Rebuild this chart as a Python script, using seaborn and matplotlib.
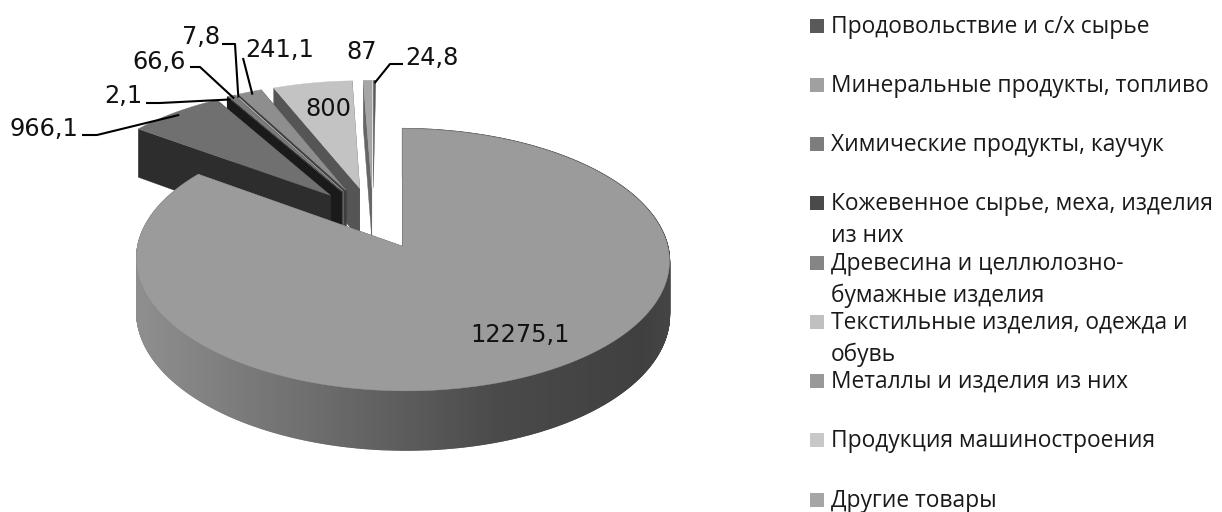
import numpy as np
import seaborn as sns
import matplotlib
matplotlib.use("Agg")
import matplotlib.pyplot as plt
from matplotlib.patches import Polygon, Rectangle

categories = ["Продовольствие и с/х сырье", "Минеральные продукты, топливо",
              "Химические продукты, каучук", "Кожевенное сырье, меха, изделия\nиз них",
              "Древесина и целлюлозно-\nбумажные изделия", "Текстильные изделия, одежда и\nобувь",
              "Металлы и изделия из них", "Продукция машиностроения", "Другие товары"]
values = [24.8, 12275.1, 966.1, 2.1, 66.6, 7.8, 241.1, 800, 87]
value_labels = ["24,8", "12275,1", "966,1", "2,1", "66,6", "7,8", "241,1", "800", "87"]

top_colors = ["#5a5a5a", "#9b9b9b", "#707070", "#3a3a3a", "#7a7a7a", "#b5b5b5", "#8e8e8e", "#c3c3c3", "#a6a6a6"]
wall_colors = ["#444444", "#404040", "#2d2d2d", "#1a1a1a", "#3c3c3c", "#777777", "#3f3f3f", "#555555", "#666666"]
legend_colors = ["#595959", "#a0a0a0", "#7d7d7d", "#4a4a4a", "#858585", "#c0c0c0", "#999999", "#c8c8c8", "#a6a6a6"]

sns.set_theme(style="white")
plt.rcParams["font.family"] = ["Open Sans", "DejaVu Sans"]

fig, ax = plt.subplots(figsize=(12.22, 5.12), dpi=100)
ax.set_position([0, 0, 1, 1])
ax.set_xlim(0, 1222)
ax.set_ylim(512, 0)
ax.axis("off")

CX, CY, RX, RY, K, DEPTH, EXPL = 373, 218, 259, 124, 0.10, 52, 0.25


def project(u, v, z=0.0):
    w = 1 + K * v
    return CX + RX * u / w, CY - RY * v / w + DEPTH * z / w


total = sum(values)
spans = 360 * np.array(values) / total
starts = np.concatenate([[0], np.cumsum(spans)[:-1]])


def slice_uv(i, ang, radius=1.0):
    mid = np.radians(starts[i] + spans[i] / 2)
    a = np.radians(ang)
    return EXPL * np.sin(mid) + radius * np.sin(a), EXPL * np.cos(mid) + radius * np.cos(a)


def rim_gray(x):
    return np.interp(x, [135, 300, 500, 640, 671], [0.56, 0.44, 0.29, 0.25, 0.27])


def draw_slice(i, z):
    a0, a1 = starts[i], starts[i] + spans[i]
    angs = np.linspace(a0, a1, max(3, int(spans[i] * 4)))
    apex = slice_uv(i, 0, 0)
    uv = [slice_uv(i, a) for a in angs]
    if i != 0:  # the food sliver shows no visible side wall
        for edge in (uv[0], uv[-1]):
            col = wall_colors[i]
            ax.add_patch(Polygon([project(*apex), project(*edge), project(*edge, 1), project(*apex, 1)],
                                 closed=True, fc=col, ec=col, lw=0.3, zorder=z))
    if i == 1:  # only the big slice turns its rim towards the viewer
        for p, q in zip(uv[:-1], uv[1:]):
            g = float(rim_gray(project(*p)[0]))
            col = (g, g, g)
            ax.add_patch(Polygon([project(*p), project(*q), project(*q, 1), project(*p, 1)],
                                 closed=True, fc=col, ec=col, lw=1.0, zorder=z))
    ax.add_patch(Polygon([project(*apex)] + [project(*p) for p in uv], closed=True,
                         fc=top_colors[i], ec=top_colors[i], lw=0.3, zorder=z + 0.5))


# painter's order, back to front
for z, i in enumerate([0, 8, 7, 6, 5, 4, 3, 2, 1]):
    draw_slice(i, z + 1)

# data labels
label_pos = {0: (432, 57), 1: (520, 334), 2: (44, 128), 3: (123, 95), 4: (159, 61),
             5: (201, 36), 6: (280, 49), 7: (328, 108), 8: (362, 51)}
label_fs = 17.3
for i, (x, y) in label_pos.items():
    ax.text(x, y + 1, value_labels[i], ha="center", va="center", fontsize=label_fs, color="#111111",
            family="DejaVu Sans", zorder=30)

# leader lines: elbow near the label, tip on the slice
leaders = {2: [(82, 135), (97, 135)], 3: [(146, 103), (160, 103)], 4: [(190, 67), (200, 67)],
           5: [(222, 44), (235, 44)], 6: [(243, 58)], 0: [(403, 64), (390, 64)]}
for i, pts in leaders.items():
    mid = starts[i] + spans[i] / 2
    tip = project(*slice_uv(i, mid, 0.97))
    xs, ys = zip(*(pts + [tip]))
    ax.plot(xs, ys, color="black", lw=1.5, solid_capstyle="butt", zorder=29)

# legend
legend_y = 26 + 59 * np.arange(len(categories)) + np.array([0, 0, 0, 0, 1, 1, 1, 1, 2])
legend_fs = 16.4
for name, col, y in zip(categories, legend_colors, legend_y):
    ax.add_patch(Rectangle((810, y - 7), 14, 14, fc=col, ec="none", zorder=30))
    first, *rest = name.split("\n")
    ax.text(831, y + 1, first, ha="left", va="center", fontsize=legend_fs, color="#1a1a1a", zorder=30)
    for n, line in enumerate(rest):
        ax.text(831, y + 1 + 32 * (n + 1), line, ha="left", va="center", fontsize=legend_fs,
                color="#1a1a1a", zorder=30)

fig.savefig("out.png", dpi=100)
